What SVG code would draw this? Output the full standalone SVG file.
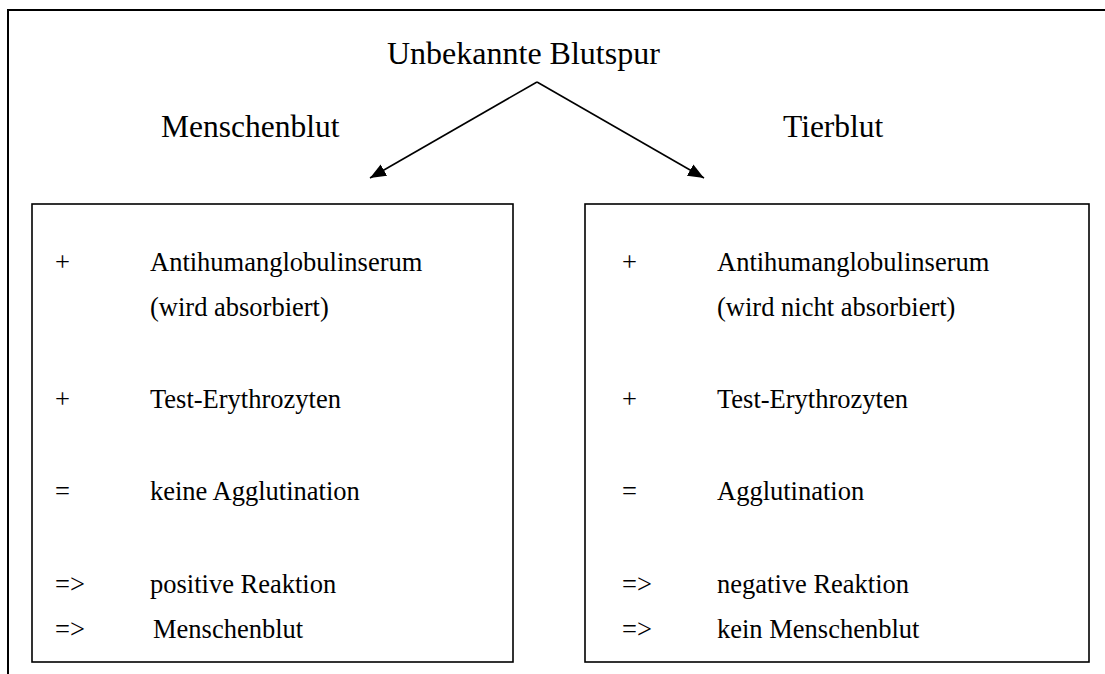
<svg xmlns="http://www.w3.org/2000/svg" width="1105" height="674" viewBox="0 0 1105 674">
<style>
text{font-family:"Liberation Serif","Times New Roman",serif;fill:#000}
.h{font-size:31.5px}
.b{font-size:26.5px}
.box{fill:none;stroke:#000;stroke-width:1.6}
.frame{fill:none;stroke:#000;stroke-width:2}
.con{fill:none;stroke:#000;stroke-width:1.6}
</style>
<defs>
<marker id="ah" viewBox="0 0 16 13" refX="16" refY="6.5" markerWidth="16" markerHeight="13" markerUnits="userSpaceOnUse" orient="auto">
<path d="M0,0 L16,6.5 L0,13 z" fill="#000"/>
</marker>
</defs>
<rect width="1105" height="674" fill="#fff"/>
<path class="frame" d="M8,674 V10 H1105"/>
<g id="title">
<text class="h" x="387" y="64" style="font-size:32px">Unbekannte Blutspur</text>
</g>
<g id="label-menschenblut">
<text class="h" x="161" y="137">Menschenblut</text>
</g>
<g id="label-tierblut">
<text class="h" x="783" y="137">Tierblut</text>
</g>
<g id="connectors">
<line class="con" x1="537" y1="82" x2="370" y2="178" marker-end="url(#ah)"/>
<line class="con" x1="537" y1="82" x2="704" y2="178" marker-end="url(#ah)"/>
</g>
<g id="box-menschenblut">
<rect class="box" x="32" y="204" width="481" height="458"/>
<text class="b" x="55" y="271">+</text>
<text class="b" x="150" y="271">Antihumanglobulinserum</text>
<text class="b" x="150" y="316">(wird absorbiert)</text>
<text class="b" x="55" y="408">+</text>
<text class="b" x="150" y="408">Test-Erythrozyten</text>
<text class="b" x="55" y="500">=</text>
<text class="b" x="150" y="500">keine Agglutination</text>
<text class="b" x="55" y="593">=&gt;</text>
<text class="b" x="150" y="593">positive Reaktion</text>
<text class="b" x="55" y="638">=&gt;</text>
<text class="b" x="153" y="638">Menschenblut</text>
</g>
<g id="box-tierblut">
<rect class="box" x="585" y="204" width="504" height="458"/>
<text class="b" x="622" y="271">+</text>
<text class="b" x="717" y="271">Antihumanglobulinserum</text>
<text class="b" x="717" y="316">(wird nicht absorbiert)</text>
<text class="b" x="622" y="408">+</text>
<text class="b" x="717" y="408">Test-Erythrozyten</text>
<text class="b" x="622" y="500">=</text>
<text class="b" x="717" y="500">Agglutination</text>
<text class="b" x="622" y="593">=&gt;</text>
<text class="b" x="717" y="593">negative Reaktion</text>
<text class="b" x="622" y="638">=&gt;</text>
<text class="b" x="717" y="638">kein Menschenblut</text>
</g>
</svg>
